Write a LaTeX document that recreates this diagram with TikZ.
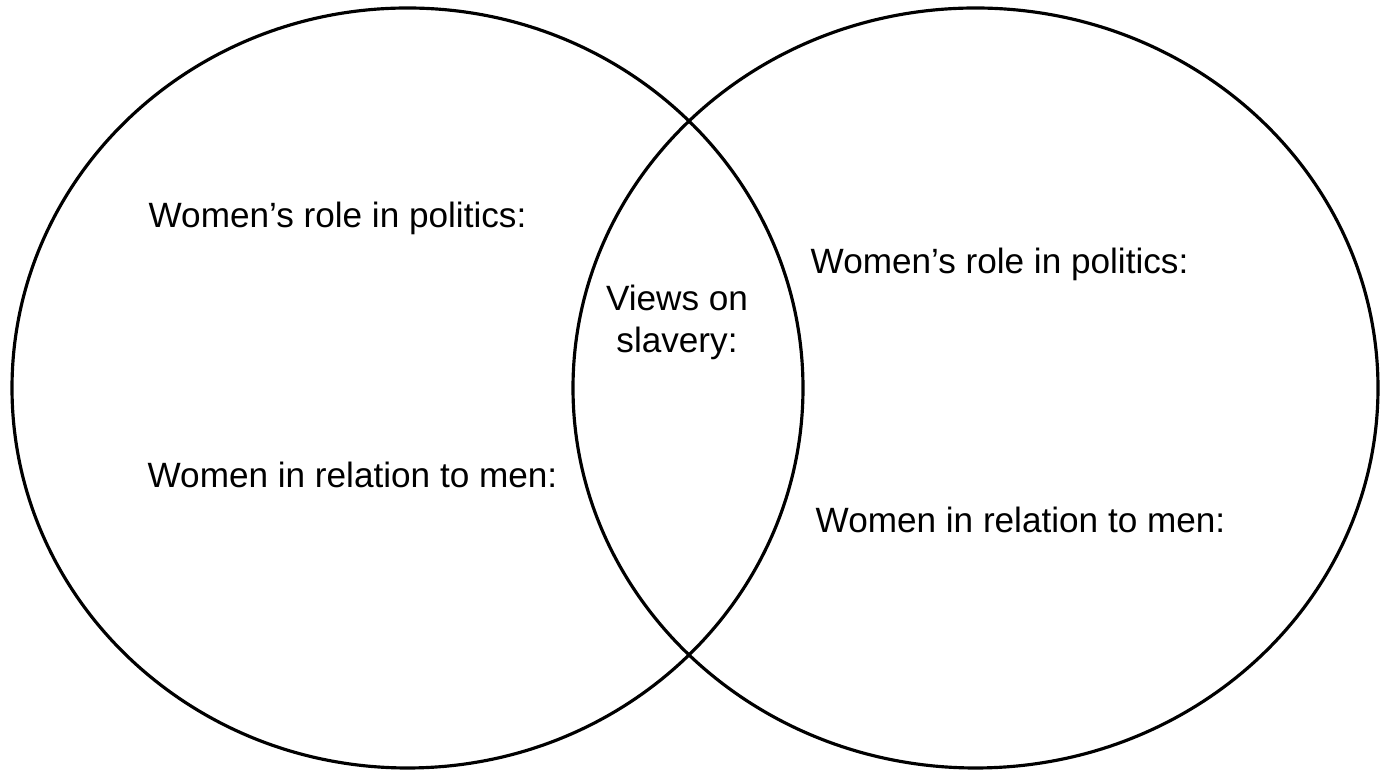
\documentclass[tikz,border=0pt]{standalone}
\usepackage{fontspec}
\setmainfont{Liberation Sans}
\usepackage{tikz}

\begin{document}
\begin{tikzpicture}[label/.style={anchor=base west, inner sep=0pt, font=\fontsize{10}{12}\selectfont}]
    \useasboundingbox (0,0) rectangle (13.88,7.71);
    \coordinate (L) at (4.075,3.83);
    \coordinate (R) at (9.755,3.83);

    \draw[line width=0.9pt] (L) ellipse (3.955 and 3.80);
    \draw[line width=0.9pt] (R) ellipse (4.025 and 3.80);

    \node[label] (lpol) at (1.48,5.43) {Women’s role in politics:};
    \node[label] (lrel) at (1.47,2.83) {Women in relation to men:};
    % base of a two-line node is the last line
    \node[label, anchor=base, align=center] (slav) at (6.77,4.18) {Views on\\slavery:};
    \node[label] (rpol) at (8.10,4.97) {Women’s role in politics:};
    \node[label] (rrel) at (8.15,2.38) {Women in relation to men:};
\end{tikzpicture}
\end{document}
